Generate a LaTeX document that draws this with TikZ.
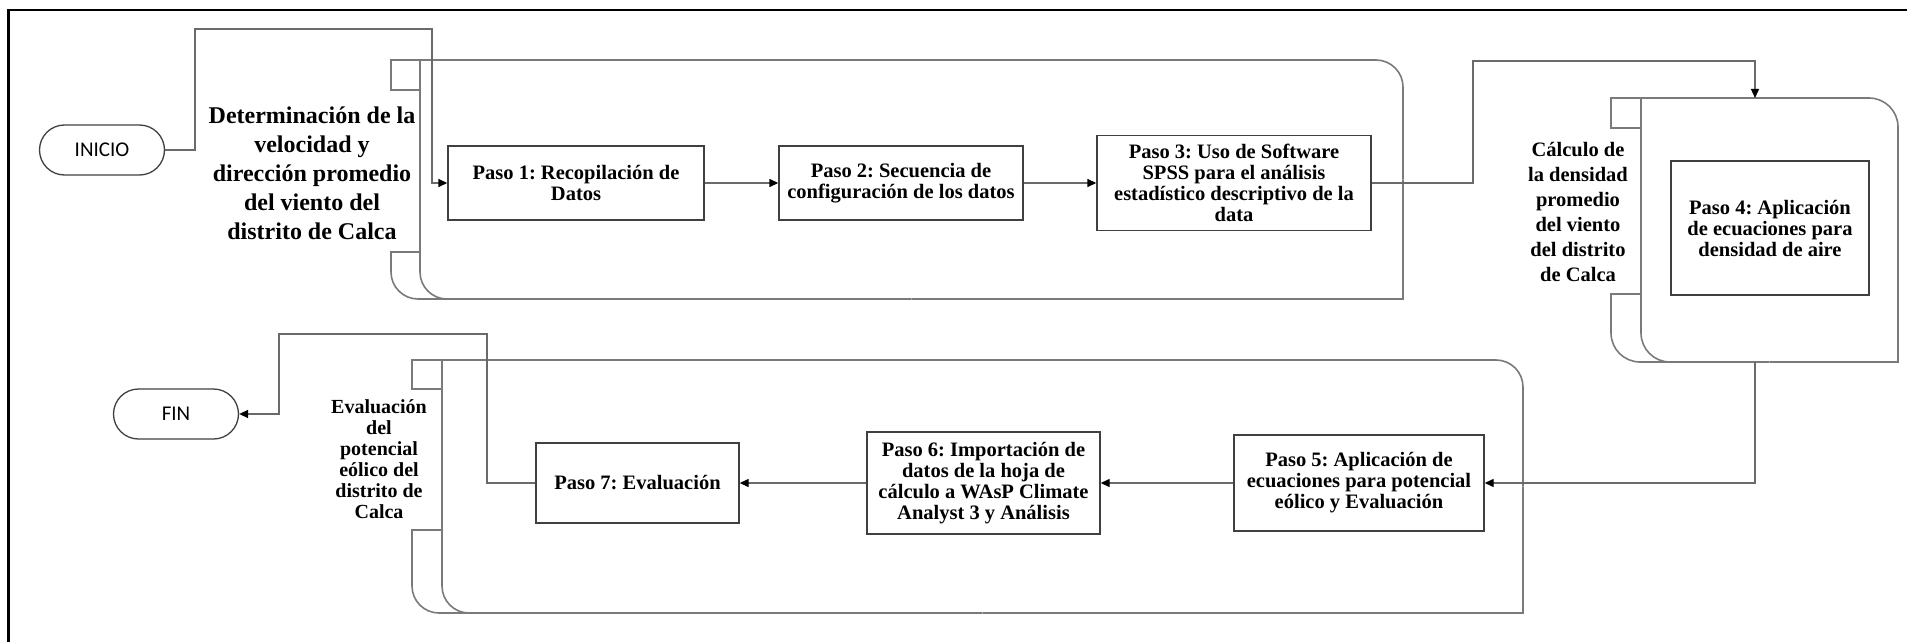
\documentclass[tikz,border=0pt]{standalone}
\usepackage{fontspec}
\setmainfont{Liberation Serif}
\newfontfamily\calib{Carlito}
\usetikzlibrary{arrows.meta,shapes.misc}
\frenchspacing
\definecolor{grpgray}{HTML}{7A7A7A}
\definecolor{boxgray}{HTML}{404040}
\definecolor{conngray}{HTML}{6A6A6A}
\newcommand\stepfont{\bfseries\fontsize{20.5}{21}\selectfont}
\newcommand{\lanegroup}[8]{%
  \draw[grp] (#2,#3) -- (#1,#3) -- (#1,#4) -- (#2,#4);
  \draw[grp] (#2,#5) -- (#1,#5) -- (#1,{#5+1});
  \draw[grp,rounded corners=#8pt] (#1,{#5+1}) -- (#1,#6) -- ({#2+40},#6);
  \draw[grp,rounded corners=#8pt] (#2,#3) -- (#2,#6) -- ({(#2+#7)/2},#6);
  \draw[grp] ({(#2+#7)/2},#6) -- (#7,#6) -- (#7,{(#3+#6)/2});
  \draw[grp,rounded corners=#8pt] (#7,{(#3+#6)/2}) -- (#7,#3) -- (#2,#3);
}
\tikzset{
  frame/.style={draw=black,line width=2.5pt},
  grp/.style={draw=grpgray,line width=1.6pt},
  stepbox/.style={draw=boxgray,line width=1.4pt,fill=white,align=center,inner sep=0pt,font=\stepfont},
  term/.style={rounded rectangle,draw=boxgray,line width=1.3pt,minimum width=125pt,minimum height=50pt,inner sep=0pt,font=\calib\fontsize{21}{25}\selectfont},
  lane/.style={align=center,inner sep=0pt},
  conn/.style={draw=conngray,line width=1.4pt,-{Triangle[length=9pt,width=8pt,color=black]}}
}
\begin{document}
\begin{tikzpicture}[x=1pt,y=-1pt]
\useasboundingbox (0,0) rectangle (1907,642);
\draw[frame] (8.5,660) -- (8.5,10) -- (1920,10);
% swimlane groups
\lanegroup{391}{420}{60}{90}{252}{299}{1403}{27}
\lanegroup{1611}{1641}{98}{128}{294}{362}{1898}{29}
\lanegroup{412}{442}{360}{389}{530}{613}{1523}{27}
\coordinate (g2top) at (1755,98);
\coordinate (g2bot) at (1755,362);
% labels
\node[lane,font=\bfseries\fontsize{24}{29}\selectfont] (lab1) at (312,173) {Determinación de la\\velocidad y\\dirección promedio\\del viento del\\distrito de Calca};
\node[lane,font=\bfseries\fontsize{20.5}{25}\selectfont] (lab2) at (1578,212) {Cálculo de\\la densidad\\promedio\\del viento\\del distrito\\de Calca};
\node[lane,font=\bfseries\fontsize{20}{21}\selectfont] (lab3) at (379,459) {Evaluación\\del\\potencial\\eólico del\\distrito de\\Calca};
% terminals
\node[term] (inicio) at (102,150) {INICIO};
\node[term] (fin) at (176,414) {FIN};
% steps
\node[stepbox,minimum width=256pt,minimum height=74pt] (p1) at (576,183) {Paso 1: Recopilación de\\Datos};
\node[stepbox,minimum width=244pt,minimum height=74pt] (p2) at (901,183) {Paso 2: Secuencia de\\configuración de los datos};
\node[stepbox,minimum width=274pt,minimum height=95pt] (p3) at (1234,183) {Paso 3: Uso de Software\\SPSS para el análisis\\estadístico descriptivo de la\\data};
\node[stepbox,minimum width=198pt,minimum height=134pt] (p4) at (1770,228) {Paso 4: Aplicación\\de ecuaciones para\\densidad de aire};
\node[stepbox,minimum width=250pt,minimum height=96pt] (p5) at (1359,483) {Paso 5: Aplicación de\\ecuaciones para potencial\\eólico y Evaluación};
\node[stepbox,minimum width=233pt,minimum height=102pt] (p6) at (983.5,483) {Paso 6: Importación de\\datos de la hoja de\\cálculo a WAsP Climate\\Analyst 3 y Análisis};
\node[stepbox,minimum width=203pt,minimum height=80pt] (p7) at (637.5,483) {Paso 7: Evaluación};
% connectors
\draw[conn] (inicio.east) -| (195,29) -| (432,183) -- (p1.west);
\draw[conn] (p1.east) -- (p2.west);
\draw[conn] (p2.east) -- (p3.west);
\draw[conn] (p3.east) -| (1473,61) -| (g2top);
\draw[conn] (g2bot) |- (p5.east);
\draw[conn] (p5.west) -- (p6.east);
\draw[conn] (p6.west) -- (p7.east);
\draw[conn] (p7.west) -| (487,334) -- (279,334) |- (fin.east);
\end{tikzpicture}
\end{document}
